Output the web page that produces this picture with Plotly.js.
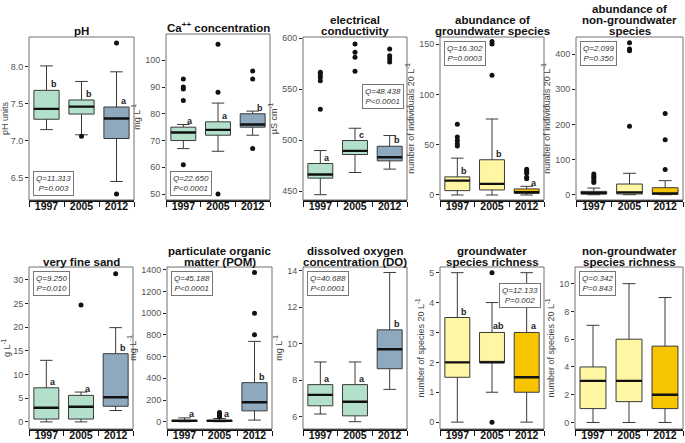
<!DOCTYPE html>
<html><head><meta charset="utf-8">
<script src="https://cdn.plot.ly/plotly-3.0.1.min.js"></script>
<style>html,body{margin:0;padding:0;background:#fff}#chart{width:685px;height:443px}</style>
</head><body><div id="chart"></div>
<script>
const years = ["1997", "2005", "2012"];

// pH
const ph_lo = [7.15, 7.08, 6.45];
const ph_q1 = [7.29, 7.36, 7.03];
const ph_med = [7.43, 7.46, 7.30];
const ph_q3 = [7.68, 7.55, 7.455];
const ph_hi = [8.01, 7.80, 7.93];
const ph_out = [[], [7.06], [8.32, 6.28]];
const ph_letters = ["b", "b", "a"];
const ph_test = ["11.313", "=0.003"];

// Ca++
const ca_lo = [67, 66, 72];
const ca_q1 = [70, 72, 75];
const ca_med = [73, 74, 76];
const ca_q3 = [75, 77, 80];
const ca_hi = [76, 84, 81];
const ca_out = [[93, 90, 89.3, 85, 61], [106, 88, 50], [96, 93, 67]];
const ca_letters = ["a", "a", "b"];
const ca_test = ["22.650", "<0.0001"];

// electrical conductivity
const ec_lo = [446.7, 468.4, 471.7];
const ec_q1 = [462.9, 486, 479.8];
const ec_med = [466.4, 489.6, 483.4];
const ec_q3 = [477.2, 499.7, 494.1];
const ec_hi = [489.9, 511.7, 504.6];
const ec_out = [[530.3, 558.3, 561.6, 564.2, 566.4], [567.4, 581.1, 586, 594.1], [576.5, 579.8, 582.7, 589.3]];
const ec_letters = ["a", "c", "b"];
const ec_test = ["48.438", "<0.0001"];

// abundance of groundwater species
const ga_lo = [0, 0, 0];
const ga_q1 = [4.3, 5, 1.7];
const ga_med = [14.3, 11, 2.7];
const ga_q3 = [18, 35, 6];
const ga_hi = [36.6, 75.5, 8.6];
const ga_out = [[70.2, 57.5, 54.2, 50.9, 48.6], [152.6, 150, 119], [25.5, 23.5, 21.5, 17.5, 16]];
const ga_letters = ["b", "b", "a"];
const ga_test = ["16.302", "=0.0003"];

// abundance of non-groundwater species
const na_lo = [0, 0, 0];
const na_q1 = [2, 2, 1];
const na_med = [4.8, 6.7, 3.8];
const na_q3 = [9.5, 30.5, 20];
const na_hi = [19, 61, 40];
const na_out = [[59, 52.5, 47, 40, 35], [432.7, 414.5, 409.7, 194.8], [231, 156.6, 71.6]];
const na_letters = ["", "", ""];
const na_test = ["2.099", "=0.350"];

// very fine sand
const vs_lo = [0, 0, 2.4];
const vs_q1 = [0.6, 0.6, 3.3];
const vs_med = [3, 3.2, 5.2];
const vs_q3 = [7.2, 5.6, 14.4];
const vs_hi = [13, 6.3, 19.9];
const vs_out = [[], [24.7], [31.3]];
const vs_letters = ["a", "a", "b"];
const vs_test = ["9.250", "=0.010"];

// particulate organic matter
const pom_lo = [0, 0, 15];
const pom_q1 = [3, 3, 100];
const pom_med = [8, 8, 180];
const pom_q3 = [15, 15, 360];
const pom_hi = [35, 30, 740];
const pom_out = [[], [45, 55, 70, 85], [1375, 1000, 800]];
const pom_letters = ["a", "a", "b"];
const pom_test = ["45.188", "<0.0001"];

// dissolved oxygen
const do_lo = [6.15, 5.73, 7.5];
const do_q1 = [6.6, 6.05, 8.63];
const do_med = [7.2, 6.82, 9.7];
const do_q3 = [7.76, 7.76, 10.76];
const do_hi = [9, 9, 13.9];
const do_out = [[], [], []];
const do_letters = ["a", "a", "b"];
const do_test = ["40.688", "<0.0001"];

// groundwater species richness
const gr_lo = [0, 1, 0];
const gr_q1 = [1.5, 2, 1];
const gr_med = [2, 2, 1.5];
const gr_q3 = [3.5, 3, 3];
const gr_hi = [5, 4, 5];
const gr_out = [[], [5, 0], []];
const gr_letters = ["b", "ab", "a"];
const gr_test = ["12.133", "=0.002"];

// non-groundwater species richness
const nr_lo = [0, 0, 0];
const nr_q1 = [1, 1.5, 1];
const nr_med = [3, 3, 2];
const nr_q3 = [4, 6, 5.5];
const nr_hi = [7, 10, 9];
const nr_out = [[], [], []];
const nr_letters = ["", "", ""];
const nr_test = ["0.342", "=0.843"];

// ---------- styling / layout ----------
const W = 685, H = 443;
const FONT = "Liberation Sans, Arial, sans-serif";
const G = "#b3e0cb", B = "#8ea8bd", Y = "#fff6a3", O = "#f7c400";

const panels = [
  {t:["pH"], yt:"pH units", px:[29,134], py:[37,200], r:[6.2,8.4], t0:6.5, dt:0.5, fmt:".1f", f:[G,G,B],
   d:[ph_lo,ph_q1,ph_med,ph_q3,ph_hi,ph_out,ph_letters,ph_test], st:{x:0.04,y:0.025,xa:"left",ya:"bottom"}},
  {t:["Ca<sup>++</sup> concentration"], yt:"mg L<sup>-1</sup>", px:[166,270], py:[34,200], r:[47.8,109.8], t0:50, dt:10, fmt:"", f:[G,G,B],
   d:[ca_lo,ca_q1,ca_med,ca_q3,ca_hi,ca_out,ca_letters,ca_test], st:{x:0.04,y:0.025,xa:"left",ya:"bottom"}},
  {t:["electrical","conductivity"], yt:"µS cm<sup>-1</sup>", px:[303,407], py:[37,200], r:[441.5,601], t0:450, dt:50, fmt:"", f:[G,G,B],
   d:[ec_lo,ec_q1,ec_med,ec_q3,ec_hi,ec_out,ec_letters,ec_test], st:{x:0.97,y:0.71,xa:"right",ya:"top"}},
  {t:["abundance of","groundwater species"], yt:"number of individuals 20 L<sup>-1</sup>", px:[440,544], py:[37,200], r:[-5,157], t0:0, dt:50, fmt:"", f:[Y,Y,O],
   d:[ga_lo,ga_q1,ga_med,ga_q3,ga_hi,ga_out,ga_letters,ga_test], st:{x:0.04,y:0.975,xa:"left",ya:"top"}},
  {t:["abundance of","non-groundwater","species"], yt:"number of individuals 20 L<sup>-1</sup>", px:[576,683], py:[37,200], r:[-15,449], t0:0, dt:100, fmt:"", f:[Y,Y,O],
   d:[na_lo,na_q1,na_med,na_q3,na_hi,na_out,na_letters,na_test], st:{x:0.04,y:0.975,xa:"left",ya:"top"}},
  {t:["very fine sand"], yt:"g L<sup>-1</sup>", px:[29,133], py:[267,429], r:[-1.5,32.7], t0:0, dt:5, fmt:"", f:[G,G,B],
   d:[vs_lo,vs_q1,vs_med,vs_q3,vs_hi,vs_out,vs_letters,vs_test], st:{x:0.04,y:0.975,xa:"left",ya:"top"}},
  {t:["particulate organic","matter (POM)"], yt:"mg L<sup>-1</sup>", px:[167,272], py:[267,429], r:[-67,1425], t0:0, dt:200, fmt:"", f:[G,G,B],
   d:[pom_lo,pom_q1,pom_med,pom_q3,pom_hi,pom_out,pom_letters,pom_test], st:{x:0.04,y:0.975,xa:"left",ya:"top"}},
  {t:["dissolved oxygen","concentration (DO)"], yt:"mg L<sup>-1</sup>", px:[303,407], py:[267,429], r:[5.33,14.2], t0:6, dt:2, fmt:"", f:[G,G,B],
   d:[do_lo,do_q1,do_med,do_q3,do_hi,do_out,do_letters,do_test], st:{x:0.04,y:0.975,xa:"left",ya:"top"}},
  {t:["groundwater","species richness"], yt:"number of species 20 L<sup>-1</sup>", px:[440,544], py:[267,429], r:[-0.23,5.19], t0:0, dt:1, fmt:"", f:[Y,Y,O],
   d:[gr_lo,gr_q1,gr_med,gr_q3,gr_hi,gr_out,gr_letters,gr_test], st:{x:0.97,y:0.9,xa:"right",ya:"top"}},
  {t:["non-groundwater","species richness"], yt:"number of species 20 L<sup>-1</sup>", px:[575,683], py:[267,429], r:[-0.47,11.2], t0:0, dt:2, fmt:"", f:[Y,Y,O],
   d:[nr_lo,nr_q1,nr_med,nr_q3,nr_hi,nr_out,nr_letters,nr_test], st:{x:0.04,y:0.975,xa:"left",ya:"top"}}
];

const traces = [];
const layout = {
  width: W, height: H, margin: {l:0, r:0, t:0, b:0},
  paper_bgcolor: "#fff", plot_bgcolor: "#fff",
  showlegend: false, boxmode: "overlay",
  font: {family: FONT, color: "#000"},
  shapes: [], annotations: []
};

panels.forEach((p, i) => {
  const k = i + 1;
  const xa = "x" + k, ya = "y" + k;
  const [lo, q1, med, q3, hi, out, letters, test] = p.d;
  const pos = years.map((_, j) => j + 1);

  years.forEach((yr, j) => {
    traces.push({
      type: "box", xaxis: xa, yaxis: ya, x: [pos[j]],
      q1: [q1[j]], median: [med[j]], q3: [q3[j]], lowerfence: [lo[j]], upperfence: [hi[j]],
      width: 0.72, whiskerwidth: 0.5, fillcolor: p.f[j],
      line: {color: "#3a3a3a", width: 1}, boxpoints: false, hoverinfo: "skip"
    });
  });
  // thick median lines
  traces.push({
    type: "box", xaxis: xa, yaxis: ya, x: pos,
    q1: med, median: med, q3: med, lowerfence: med, upperfence: med,
    width: 0.72, whiskerwidth: 0, fillcolor: "rgba(0,0,0,0)",
    line: {color: "#111", width: 2.4}, boxpoints: false, hoverinfo: "skip"
  });
  // outliers
  const ox = [], oy = [];
  out.forEach((arr, j) => arr.forEach(v => { ox.push(pos[j]); oy.push(v); }));
  traces.push({
    type: "scatter", mode: "markers", xaxis: xa, yaxis: ya, x: ox, y: oy,
    marker: {color: "#111", size: 5}, hoverinfo: "skip", cliponaxis: false
  });

  layout["xaxis" + k] = {
    domain: [p.px[0] / W, p.px[1] / W], anchor: ya, range: [0.5, 3.5],
    tickmode: "array", tickvals: pos, ticktext: years.map(y => "<b>" + y + "</b>"),
    ticks: "", tickfont: {size: 10.5, color: "#111", family: FONT}, ticklabelstandoff: -4,
    showline: true, linecolor: "#111", linewidth: 1.5, showgrid: false, zeroline: false,
    minor: {tickmode: "array", tickvals: [0.5, 1.5, 2.5, 3.5], ticks: "outside", ticklen: 5, tickwidth: 1, tickcolor: "#111", showgrid: false},
    fixedrange: true
  };
  layout["yaxis" + k] = {
    domain: [1 - p.py[1] / H, 1 - p.py[0] / H], anchor: xa, range: p.r,
    tickmode: "linear", tick0: p.t0, dtick: p.dt, tickformat: p.fmt,
    ticks: "outside", ticklen: 3, tickwidth: 1, tickcolor: "#222",
    tickfont: {size: 9, color: "#555", family: FONT},
    showline: false, showgrid: false, zeroline: false,
    title: {text: p.yt, font: {size: 9, color: "#444", family: FONT}, standoff: 3},
    fixedrange: true
  };
  // frame
  layout.shapes.push({type: "rect", xref: xa + " domain", yref: ya + " domain", x0: 0, x1: 1, y0: 0, y1: 1,
    line: {color: "#707070", width: 1}, layer: "above"});
  // title lines
  const n = p.t.length;
  p.t.forEach((line, li) => {
    layout.annotations.push({xref: xa + " domain", yref: ya + " domain", x: 0.5, y: 1,
      xanchor: "center", yanchor: "bottom", yshift: (n - 1 - li) * 11 - 2.5, showarrow: false,
      text: "<b>" + line + "</b>", font: {size: 11.5, color: "#111", family: FONT}});
  });
  // letters
  letters.forEach((L, j) => {
    if (!L) return;
    layout.annotations.push({xref: xa, yref: ya, x: pos[j] + 0.2, y: q3[j], xanchor: "center", yanchor: "bottom",
      showarrow: false, text: "<b>" + L + "</b>", font: {size: 9, color: "#222", family: FONT}, yshift: -1});
  });
  // test statistics box
  layout.annotations.push({xref: xa + " domain", yref: ya + " domain", x: p.st.x, y: p.st.y,
    xanchor: p.st.xa, yanchor: p.st.ya, showarrow: false, align: "center",
    text: "<i>Q=" + test[0] + "<br>P" + test[1] + "</i>",
    font: {size: 8, color: "#333", family: FONT}, bgcolor: "#fff",
    bordercolor: "#777", borderwidth: 1, borderpad: 2});
});

Plotly.newPlot("chart", traces, layout, {staticPlot: true, displayModeBar: false});
</script></body></html>
